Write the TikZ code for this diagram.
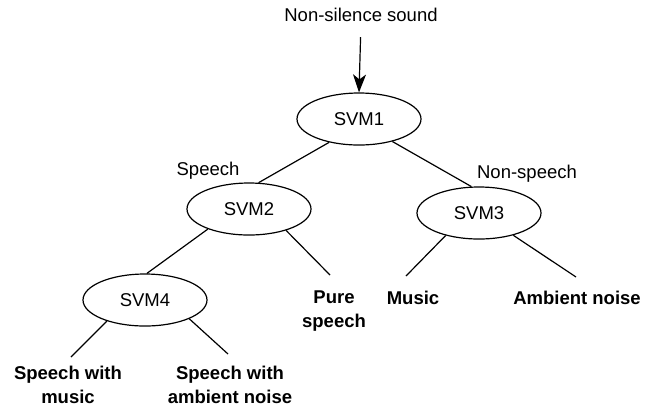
\documentclass[tikz,border=0pt]{standalone}
\usepackage{fontspec}
\setmainfont{Liberation Sans}
\usetikzlibrary{arrows.meta,shapes.geometric}

\begin{document}
\begin{tikzpicture}[x=0.5pt,y=-0.5pt,
  every node/.style={font=\fontsize{9.25}{12}\selectfont, inner sep=0pt},
  svm/.style={draw, ellipse, line width=0.6pt, minimum width=62pt, minimum height=26pt},
  leaf/.style={font=\fontsize{9.25}{12}\selectfont\bfseries, align=center},
  branch/.style={line width=0.6pt}]
\useasboundingbox (0,0) rectangle (651,408);

% Input
\node (src) at (361,15) {Non-silence sound};

% Classifiers
\node[svm] (svm1) at (359,119) {SVM1};
\node[svm] (svm2) at (249,209) {SVM2};
\node[svm] (svm3) at (479,213) {SVM3};
\node[svm] (svm4) at (145,300) {SVM4};

% Branch labels
\node (speech) at (208,171) {Speech};
\node (nonspeech) at (527,174) {Non-speech};

% Classes
\node[leaf] (pure) at (334,311) {Pure\\speech};
\node[leaf] (music) at (413,298) {Music};
\node[leaf] (ambient) at (577,298) {Ambient noise};
\node[leaf] (spmusic) at (68,385) {Speech with\\music};
\node[leaf] (spambient) at (230,385) {Speech with\\ambient noise};

% Free ends of the branches above the classes
\coordinate (toPure) at (330,275);
\coordinate (toMusic) at (406,276);
\coordinate (toAmbient) at (576,277);
\coordinate (toSpMusic) at (71,357);
\coordinate (toSpAmbient) at (228,354);

% Arrow into the tree
\draw[branch,-{Stealth[length=9pt,width=6.5pt,inset=2.5pt]},shorten <=7.5pt] (src.south) -- (svm1.north);

% Branches
\draw[branch] (svm1.218) -- (svm2.70);
\draw[branch] (svm1.326) -- (svm3.106);
\draw[branch] (svm2.206) -- (svm4.86);
\draw[branch] (svm2.330) -- (toPure);
\draw[branch] (svm3.214) -- (toMusic);
\draw[branch] (svm3.327) -- (toAmbient);
\draw[branch] (svm4.209) -- (toSpMusic);
\draw[branch] (svm4.337) -- (toSpAmbient);

\end{tikzpicture}
\end{document}
